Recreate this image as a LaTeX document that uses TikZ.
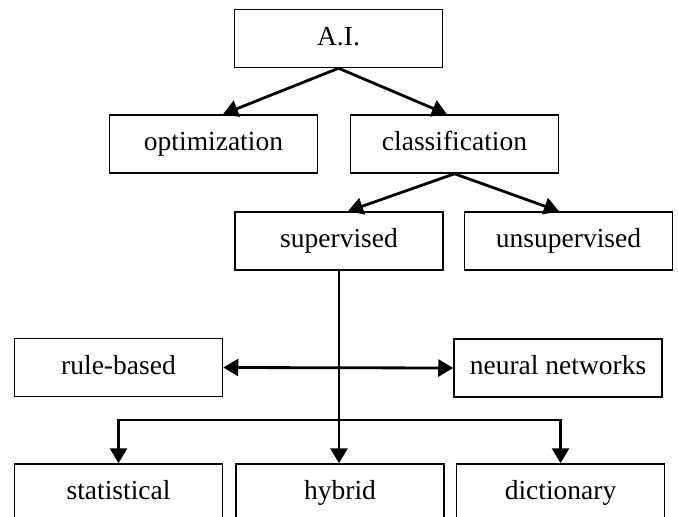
\documentclass[tikz,border=0pt]{standalone}
\usepackage{fontspec}
\setmainfont{Liberation Serif}
\usepackage{tikz}
\usetikzlibrary{calc,arrows.meta}

\begin{document}
\begin{tikzpicture}[x=1pt,y=-1pt,
  box/.style={draw, line width=1.5pt, minimum width=208pt, minimum height=58pt,
    inner sep=0pt, text height=19pt, text depth=6pt,
    font=\fontsize{27.5}{30}\selectfont},
  tip/.style={Triangle[length=15pt,width=17pt]},
  link/.style={line width=2.8pt, -{Triangle[length=15pt,width=17pt]}}]
\clip (0,0) rectangle (678,517);

% Top levels
\node[box] (ai) at (338.5,38.5) {A.I.};
\node[box] (opt) at (213.5,144) {optimization};
\node[box] (cls) at (454.5,144) {classification};
\node[box] (sup) at (339,241) {supervised};
\node[box] (unsup) at (568.5,241) {unsupervised};

% Middle row
\node[box] (rule) at (118.5,367.5) {rule-based};
\node[box] (neural) at (558,368) {neural networks};

% Bottom row (cut by the page edge)
\node[box] (stat) at (118.5,493) {statistical};
\node[box] (hyb) at (340,493) {hybrid};
\node[box] (dict) at (560.5,493) {dictionary};

% Tree arrows
\draw[link] (ai.south) -- ($(opt.north)+(9.5,0)$);
\draw[link] (ai.south) -- ($(cls.north)+(-7.5,0)$);
\draw[link] (cls.south) -- ($(sup.north)+(9,0)$);
\draw[link] (cls.south) -- ($(unsup.north)+(-9.5,0)$);

% Trunk from supervised
\draw[link] (sup.south) -- (sup.south |- hyb.north);
\draw[link,{Triangle[length=15pt,width=17pt]}-{Triangle[length=15pt,width=17pt]}] (rule.east) -- (neural.west);
\coordinate (J) at (sup.south |- 0,420);
\draw[link] (J) -| (stat.north);
\draw[link] (J) -| (dict.north);
\end{tikzpicture}
\end{document}
